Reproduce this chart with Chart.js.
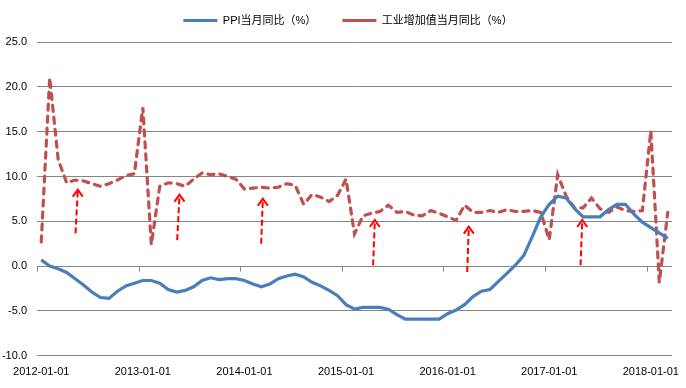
<!DOCTYPE html>
<html>
<head>
<meta charset="utf-8">
<script src="https://cdn.jsdelivr.net/npm/chart.js@4.4.0/dist/chart.umd.min.js"></script>
<style>
  body { margin: 0; background: #fff; }
</style>
</head>
<body>
<canvas id="ppiChart" width="686" height="388"></canvas>
<script>
// monthly categories, 2012-01 .. 2018-03
const firstYear = 2012;
const monthCount = 75;
const months = [];
for (let i = 0; i < monthCount; i++) {
    const yr = firstYear + Math.floor(i / 12);
    const mo = String(i % 12 + 1).padStart(2, '0');
    months.push(`${yr}-${mo}-01`);
}

const yTicks = { min: -10, max: 25, step: 5 };

// PPI当月同比（%）
const ppi = [
    0.7, 0.0, -0.3, -0.7, -1.4, -2.1, -2.9, -3.5, -3.6, -2.8, -2.2, -1.9,
    -1.6, -1.6, -1.9, -2.6, -2.9, -2.7, -2.3, -1.6, -1.3, -1.5, -1.4, -1.4,
    -1.6, -2.0, -2.3, -2.0, -1.4, -1.1, -0.9, -1.2, -1.8, -2.2, -2.7, -3.3,
    -4.3, -4.8, -4.6, -4.6, -4.6, -4.8, -5.4, -5.9, -5.9, -5.9, -5.9, -5.9,
    -5.3, -4.9, -4.3, -3.4, -2.8, -2.6, -1.7, -0.8, 0.1, 1.2, 3.3, 5.5,
    6.9, 7.8, 7.6, 6.4, 5.5, 5.5, 5.5, 6.3, 6.9, 6.9, 5.8, 4.9,
    4.3, 3.7, 3.1
];

// 工业增加值当月同比（%）
const industry = [
    2.7, 21.0, 11.9, 9.3, 9.6, 9.5, 9.2, 8.9, 9.2, 9.6, 10.1, 10.3,
    17.7, 2.4, 8.9, 9.3, 9.2, 8.9, 9.7, 10.4, 10.2, 10.3, 10.0, 9.7,
    8.6, 8.7, 8.8, 8.7, 8.8, 9.2, 9.0, 6.9, 8.0, 7.7, 7.2, 7.9,
    9.7, 3.6, 5.6, 5.9, 6.1, 6.8, 6.0, 6.1, 5.7, 5.6, 6.2, 5.9,
    5.5, 5.1, 6.8, 6.0, 6.0, 6.2, 6.0, 6.3, 6.1, 6.1, 6.2, 6.0,
    2.95, 10.2, 7.8, 6.5, 6.5, 7.6, 6.4, 6.0, 6.6, 6.2, 6.1, 6.2,
    15.1, -1.8, 6.0
];

// red arrows (month index / value at foot and at tip)
const arrowFootIdx = [4.05, 16.06, 25.98, 39.2, 50.31, 63.7];
const arrowTipIdx = [4.32, 16.33, 26.17, 39.4, 50.5, 63.9];
const arrowFoot = [3.65, 2.9, 2.49, 0.09, -0.66, 0.09];
const arrowTip = [8.53, 7.97, 7.52, 5.15, 4.4, 5.15];

Chart.defaults.font.family = '"Liberation Sans", Arial, "Noto Sans CJK SC", sans-serif';
Chart.defaults.font.size = 11;
Chart.defaults.color = '#000';

// a bit more room under the legend, and nudge it right
const legendGap = {
    id: 'legendGap',
    beforeInit(chart) {
        const fit = chart.legend.fit;
        chart.legend.fit = function () {
            fit.call(this);
            this.height += 6;
        };
    },
    afterLayout(chart) {
        chart.legend.left += 12;
        chart.legend.right += 12;
    }
};

// small tick marks on the zero line at each January
const zeroTicks = {
    id: 'zeroTicks',
    beforeDatasetsDraw(chart) {
        const { ctx, scales: { x, y } } = chart;
        const y0 = Math.round(y.getPixelForValue(0)) + 0.5;
        ctx.save();
        ctx.strokeStyle = '#868686';
        ctx.lineWidth = 1;
        ctx.beginPath();
        for (let i = 0; i < monthCount; i += 12) {
            const px = Math.round(x.getPixelForValue(i - 0.5)) + 0.5;
            ctx.moveTo(px, y0);
            ctx.lineTo(px, y0 + 5);
        }
        ctx.stroke();
        ctx.restore();
    }
};

const arrows = {
    id: 'arrows',
    afterDatasetsDraw(chart) {
        const { ctx, scales: { x, y } } = chart;
        ctx.save();
        ctx.strokeStyle = '#ff0000';
        ctx.lineWidth = 2;
        for (let i = 0; i < arrowTip.length; i++) {
            const x0 = x.getPixelForValue(arrowFootIdx[i]);
            const y0 = y.getPixelForValue(arrowFoot[i]);
            const x1 = x.getPixelForValue(arrowTipIdx[i]);
            const y1 = y.getPixelForValue(arrowTip[i]);
            ctx.setLineDash([6, 3]);
            ctx.beginPath();
            ctx.moveTo(x0, y0);
            ctx.lineTo(x1, y1);
            ctx.stroke();
            ctx.setLineDash([]);
            ctx.beginPath();
            ctx.moveTo(x1 - 5, y1 + 7);
            ctx.lineTo(x1, y1);
            ctx.lineTo(x1 + 5, y1 + 7);
            ctx.stroke();
        }
        ctx.restore();
    }
};

new Chart(document.getElementById('ppiChart'), {
    type: 'line',
    data: {
        labels: months,
        datasets: [{
            label: 'PPI当月同比（%）',
            data: ppi,
            borderColor: '#4a7ebb',
            backgroundColor: '#4a7ebb',
            borderWidth: 3.2,
            pointRadius: 0,
            tension: 0
        }, {
            label: '工业增加值当月同比（%）',
            data: industry,
            borderColor: '#c0504d',
            backgroundColor: '#c0504d',
            borderWidth: 3.2,
            borderDash: [6, 6],
            borderCapStyle: 'round',
            pointRadius: 0,
            tension: 0
        }]
    },
    options: {
        responsive: false,
        animation: false,
        devicePixelRatio: 1,
        layout: { padding: { top: -11, left: 0, right: 14, bottom: -1 } },
        plugins: {
            legend: {
                position: 'top',
                labels: {
                    usePointStyle: true,
                    pointStyle: 'line',
                    pointStyleWidth: 34,
                    padding: 26,
                    font: { size: 11 }
                }
            },
            tooltip: { enabled: false }
        },
        scales: {
            x: {
                type: 'category',
                offset: true,
                grid: { display: false, drawTicks: false },
                border: { display: false },
                ticks: {
                    autoSkip: false,
                    maxRotation: 0,
                    padding: 10,
                    callback: function (value) {
                        const label = this.getLabelForValue(value);
                        return label.slice(5) === '01-01' ? label : '';
                    }
                }
            },
            y: {
                min: yTicks.min,
                max: yTicks.max,
                afterFit(scale) { scale.width = 37; },
                grid: { color: '#868686', drawTicks: false },
                border: { display: false },
                ticks: {
                    stepSize: yTicks.step,
                    padding: 10,
                    callback: v => v.toFixed(1)
                }
            }
        }
    },
    plugins: [legendGap, zeroTicks, arrows]
});
</script>
</body>
</html>
